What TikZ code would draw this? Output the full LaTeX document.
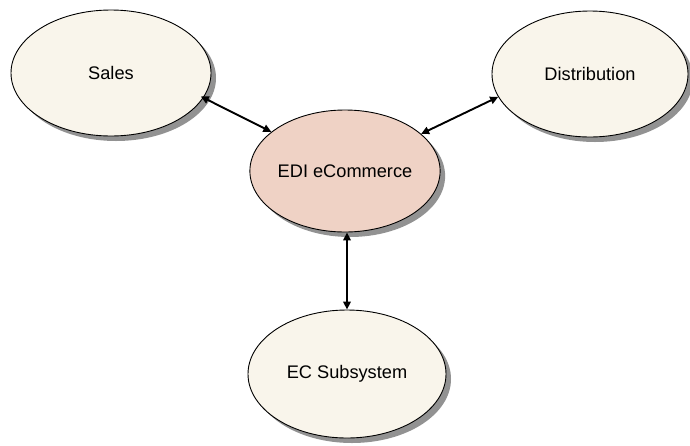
\documentclass[tikz,border=0pt]{standalone}
\usepackage{fontspec}
\setmainfont{Liberation Sans}
\usetikzlibrary{shapes.geometric,arrows.meta,shadows}
\definecolor{cream}{HTML}{F9F5EB}
\definecolor{pinkish}{HTML}{EFD2C5}
\definecolor{shadowgray}{HTML}{929292}
\begin{document}
\begin{tikzpicture}[x=1pt,y=-1pt,
  blob/.style={ellipse,draw=black,line width=0.9pt,inner sep=0pt,
    minimum width=200pt,minimum height=126pt,
    font=\fontsize{18.2}{21}\selectfont,
    drop shadow={shadow xshift=5pt,shadow yshift=-5pt,fill=shadowgray,opacity=1}},
  link/.style={line width=1.9pt,{Triangle[length=8pt,width=7.5pt]}-{Triangle[length=8pt,width=7.5pt]}}]
\useasboundingbox (0,0) rectangle (690,445);
\node[blob,fill=cream] (sales) at (111,73) {Sales};
\node[blob,fill=cream,minimum width=196pt] (dist) at (590,74) {Distribution};
\node[blob,fill=pinkish,minimum width=190pt,minimum height=122pt] (edi) at (345,171) {EDI eCommerce};
\node[blob,fill=cream,minimum width=198pt,minimum height=128pt] (ec) at (347,374) {EC Subsystem};
\draw[link,shorten <=-3pt] (sales.-15) -- (edi.152);
\draw[link] (dist.194) -- (edi.26);
\draw[link] (edi.south -| ec.north) -- (ec.north);
\end{tikzpicture}
\end{document}
